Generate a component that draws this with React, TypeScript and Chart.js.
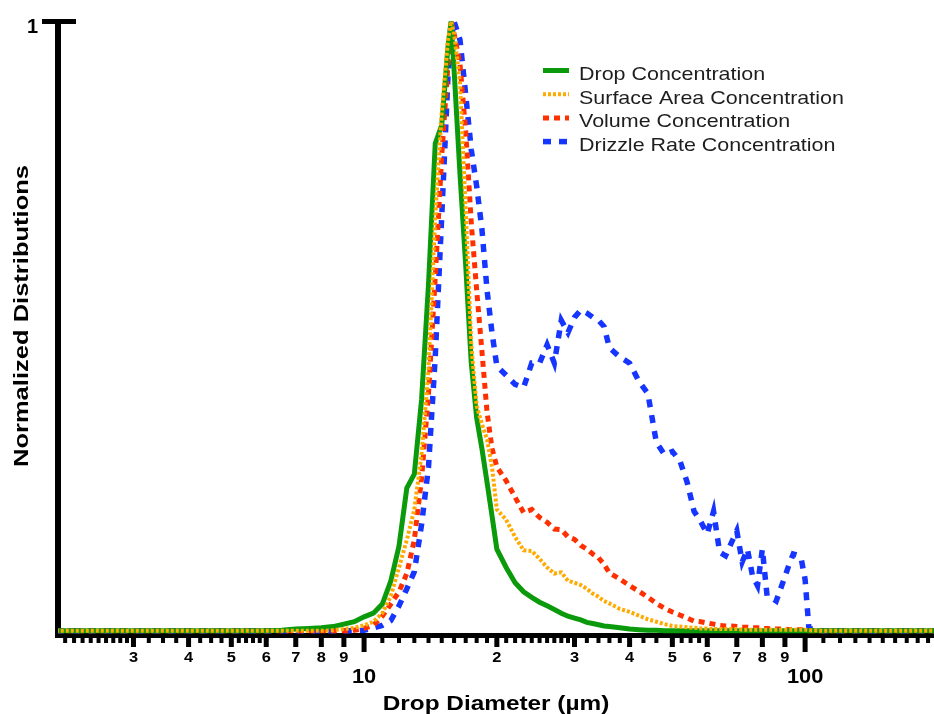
import { useEffect, useRef } from 'react';
import { Chart, registerables } from 'chart.js';

Chart.register(...registerables);

const FONT = '"Liberation Sans", Arial, Helvetica, sans-serif';

// Drop diameter bins (µm)
const diameters = [
  2, 3, 4, 5, 6, 6.5, 7, 7.5, 8, 8.5, 9, 9.5,
  10, 10.5, 11, 11.5, 12, 12.5, 13, 13.5, 14, 14.5, 15, 15.5, 15.75, 16, 16.5, 17, 17.5, 18, 18.5, 19, 19.5,
  20, 21, 22, 23, 24, 25, 26, 27, 28, 29, 30, 31, 32, 33, 34, 35, 36,
  38, 40, 42, 44, 46, 48, 50, 52, 54, 56, 58, 60, 62, 64, 66, 68, 70, 72, 74, 76, 78, 80,
  82, 84, 86, 88, 90, 92, 94, 96, 98, 100, 102, 110, 120, 150, 200,
];

const dropConc = [
  0.001, 0.001, 0.001, 0.001, 0.001, 0.002, 0.004, 0.005, 0.006, 0.008, 0.012, 0.016,
  0.024, 0.03, 0.045, 0.083, 0.14, 0.235, 0.258, 0.38, 0.57, 0.8, 0.83, 0.96, 1.0, 0.92, 0.75, 0.6, 0.44, 0.35, 0.3, 0.245, 0.19,
  0.135, 0.105, 0.08, 0.065, 0.056, 0.048, 0.042, 0.036, 0.03, 0.025, 0.022, 0.019, 0.015, 0.013, 0.011, 0.009, 0.008,
  0.006, 0.004, 0.003, 0.002, 0.002, 0.001, 0.001, 0.001, 0.001, 0.001, 0.001, 0.001, 0.001, 0.001, 0.001, 0.001, 0.001, 0.001, 0.001, 0.001, 0.001, 0.001,
  0.001, 0.001, 0.001, 0.001, 0.001, 0.001, 0.001, 0.001, 0.001, 0.001, 0.001, 0.001, 0.001, 0.001, 0.001,
];

const surfaceConc = [
  0.001, 0.001, 0.001, 0.001, 0.001, 0.001, 0.001, 0.001, 0.001, 0.002, 0.004, 0.006,
  0.01, 0.016, 0.03, 0.058, 0.105, 0.15, 0.2, 0.29, 0.43, 0.68, 0.85, 0.97, 1.0, 0.98, 0.9, 0.69, 0.47, 0.37, 0.34, 0.315, 0.27,
  0.2, 0.183, 0.155, 0.133, 0.132, 0.119, 0.105, 0.095, 0.097, 0.083, 0.08, 0.076, 0.07, 0.062, 0.057, 0.05, 0.046,
  0.037, 0.032, 0.026, 0.02, 0.016, 0.012, 0.009, 0.008, 0.007, 0.006, 0.005, 0.005, 0.004, 0.004, 0.004, 0.004, 0.004, 0.003, 0.003, 0.003, 0.003, 0.003,
  0.003, 0.003, 0.003, 0.003, 0.003, 0.003, 0.003, 0.003, 0.003, 0.003, 0.002, 0.001, 0.001, 0.001, 0.001,
];

const volumeConc = [
  0.001, 0.001, 0.001, 0.001, 0.001, 0.001, 0.001, 0.001, 0.001, 0.001, 0.001, 0.002,
  0.005, 0.01, 0.025, 0.045, 0.065, 0.095, 0.15, 0.25, 0.39, 0.58, 0.78, 0.93, 1.0, 0.98, 0.93, 0.82, 0.67, 0.56, 0.46, 0.36, 0.3,
  0.27, 0.247, 0.22, 0.195, 0.2, 0.187, 0.179, 0.168, 0.167, 0.155, 0.151, 0.141, 0.135, 0.127, 0.121, 0.11, 0.096,
  0.086, 0.075, 0.066, 0.056, 0.046, 0.038, 0.032, 0.027, 0.022, 0.017, 0.016, 0.014, 0.012, 0.01, 0.009, 0.009, 0.008, 0.007, 0.007, 0.006, 0.006, 0.005,
  0.005, 0.004, 0.004, 0.004, 0.004, 0.003, 0.003, 0.003, 0.003, 0.002, 0.001, 0.001, 0.001, 0.001, 0.001,
];

const drizzleConc = [
  0.001, 0.001, 0.001, 0.001, 0.001, 0.001, 0.001, 0.001, 0.001, 0.001, 0.001, 0.001,
  0.002, 0.006, 0.01, 0.018, 0.042, 0.07, 0.098, 0.175, 0.27, 0.45, 0.68, 0.91, 0.97, 1.0, 0.97, 0.88, 0.79, 0.73, 0.66, 0.56, 0.49,
  0.435, 0.42, 0.405, 0.4, 0.44, 0.44, 0.47, 0.44, 0.51, 0.49, 0.515, 0.527, 0.522, 0.515, 0.51, 0.5, 0.465,
  0.45, 0.44, 0.41, 0.39, 0.31, 0.29, 0.295, 0.28, 0.245, 0.197, 0.18, 0.16, 0.197, 0.13, 0.124, 0.145, 0.165, 0.114, 0.135, 0.091, 0.075, 0.135,
  0.058, 0.055, 0.05, 0.07, 0.09, 0.11, 0.127, 0.125, 0.119, 0.085, 0.005, 0.001, 0.001, 0.001, 0.001,
];

const seriesNames = [
  'Drop Concentration',
  'Surface Area Concentration',
  'Volume Concentration',
  'Drizzle Rate Concentration',
];

// Log-axis tick layout
const decadeTicks = [10, 100];
const decadeLabels = ['10', '100'];
const unitTicks = [3, 4, 5, 6, 7, 8, 9, 20, 30, 40, 50, 60, 70, 80, 90];
const unitLabels = ['3', '4', '5', '6', '7', '8', '9', '2', '3', '4', '5', '6', '7', '8', '9'];
const minorTicks = [
  2.1, 2.2, 2.3, 2.4, 2.5, 2.6, 2.7, 2.8, 2.9,
  3.25, 3.5, 3.75, 4.25, 4.5, 4.75, 5.2, 5.4, 5.6, 5.8,
  11, 12, 13, 14, 15, 16, 17, 18, 19,
  21, 22, 23, 24, 25, 26, 27, 28, 29,
  32, 34, 36, 38, 43, 46, 52.5, 55, 57.5,
  110, 120, 130, 140, 150, 160, 170, 180, 190,
];

const xTitle = 'Drop Diameter (µm)';
const yTitle = 'Normalized Distributions';

function drawText(
  ctx: CanvasRenderingContext2D,
  text: string,
  x: number,
  y: number,
  font: string,
  align: CanvasTextAlign,
  sx: number,
  color = '#000',
  rotate = 0,
) {
  ctx.save();
  ctx.translate(x, y);
  if (rotate) ctx.rotate(rotate);
  ctx.scale(sx, 1);
  ctx.font = font;
  ctx.fillStyle = color;
  ctx.textAlign = align;
  ctx.textBaseline = 'alphabetic';
  ctx.fillText(text, 0, 0);
  ctx.restore();
}

const prismAxes = {
  id: 'prismAxes',
  beforeDatasetsDraw(chart: any) {
    const { ctx, chartArea: ca, scales } = chart;
    const x = scales.x;
    const y = scales.y;
    const top = y.getPixelForValue(1);
    const base = ca.bottom;
    ctx.save();
    ctx.fillStyle = '#000';
    // axis lines
    ctx.fillRect(ca.left - 3, base - 2.5, ca.right - ca.left + 3, 5);
    ctx.fillRect(ca.left - 3, top - 2.5, 6, base - top + 2.5);
    ctx.fillRect(ca.left - 16, top - 2.5, 34, 5);
    // x ticks
    minorTicks.forEach((v) => {
      const px = x.getPixelForValue(v);
      ctx.fillRect(px - 2, base + 2.5, 4, 5);
    });
    unitTicks.forEach((v) => {
      const px = x.getPixelForValue(v);
      ctx.fillRect(px - 2.5, base + 2.5, 5, 9);
    });
    decadeTicks.forEach((v) => {
      const px = x.getPixelForValue(v);
      ctx.fillRect(px - 2.5, base + 2.5, 5, 14);
    });
    ctx.restore();
  },
  afterDraw(chart: any) {
    const { ctx, chartArea: ca, scales } = chart;
    const x = scales.x;
    const y = scales.y;
    const base = ca.bottom;
    const top = y.getPixelForValue(1);

    unitTicks.forEach((v, i) => {
      drawText(ctx, unitLabels[i], x.getPixelForValue(v), base + 26.5, `bold 15.5px ${FONT}`, 'center', 1.06);
    });
    decadeTicks.forEach((v, i) => {
      drawText(ctx, decadeLabels[i], x.getPixelForValue(v), base + 47.5, `bold 21px ${FONT}`, 'center', 1.04);
    });
    drawText(ctx, '1', ca.left - 20, top + 11.5, `bold 20px ${FONT}`, 'right', 1);

    drawText(ctx, xTitle, (ca.left + ca.right) / 2, 710, `bold 21px ${FONT}`, 'center', 1.16);
    drawText(ctx, yTitle, 27.5, 316, `bold 20.5px ${FONT}`, 'center', 1.245, '#000', -Math.PI / 2);

    // legend
    const lx = 543;
    const tx = 579;
    chart.data.datasets.forEach((ds: any, i: number) => {
      const cy = 73.5 + i * 23.7;
      ctx.save();
      ctx.strokeStyle = ds.borderColor;
      ctx.lineWidth = ds.borderWidth;
      ctx.setLineDash(ds.borderDash || []);
      ctx.beginPath();
      ctx.moveTo(lx, cy - 3);
      ctx.lineTo(lx + 26, cy - 3);
      ctx.stroke();
      ctx.restore();
      drawText(ctx, ds.label, tx, cy + 6.5, `18.5px ${FONT}`, 'left', 1.16, '#1e1e1e');
    });
  },
};

const seriesValues = [dropConc, surfaceConc, volumeConc, drizzleConc];
const seriesColors = ['#0b9a0b', '#ffaa00', '#ff3000', '#1636ff'];
const seriesWidths = [5, 4, 5, 5.5];
const seriesDashes: number[][] = [[], [3, 2], [6, 5], [8, 8]];
const seriesOrder = [1, 0, 2, 3];

export default function App() {
  const canvasRef = useRef<HTMLCanvasElement | null>(null);

  useEffect(() => {
    const canvas = canvasRef.current;
    if (!canvas) return;
    const chart = new Chart(canvas, {
      type: 'line',
      data: {
        datasets: seriesNames.map((name, s) => ({
          label: name,
          data: diameters.map((d, i) => ({ x: d, y: seriesValues[s][i] })),
          borderColor: seriesColors[s],
          backgroundColor: seriesColors[s],
          borderWidth: seriesWidths[s],
          borderDash: seriesDashes[s],
          pointRadius: 0,
          tension: 0,
          fill: false,
          order: seriesOrder[s],
          clip: { left: 0, right: 0, top: 4, bottom: 4 },
        })),
      },
      options: {
        animation: false,
        responsive: false,
        events: [],
        layout: { padding: { left: 58, right: 0, top: 21.5, bottom: 78.5 } },
        scales: {
          x: { type: 'logarithmic', min: 2.023, max: 196, display: false },
          y: { type: 'linear', min: -0.0066, max: 1, display: false },
        },
        plugins: {
          legend: { display: false },
          tooltip: { enabled: false },
          title: { display: false },
        },
      },
      plugins: [prismAxes],
    } as any);
    return () => chart.destroy();
  }, []);

  return (
    <div style={{ position: 'fixed', left: 0, top: 0, width: 934, height: 714, background: '#fff' }}>
      <canvas ref={canvasRef} width={934} height={714} style={{ display: 'block' }} />
    </div>
  );
}
